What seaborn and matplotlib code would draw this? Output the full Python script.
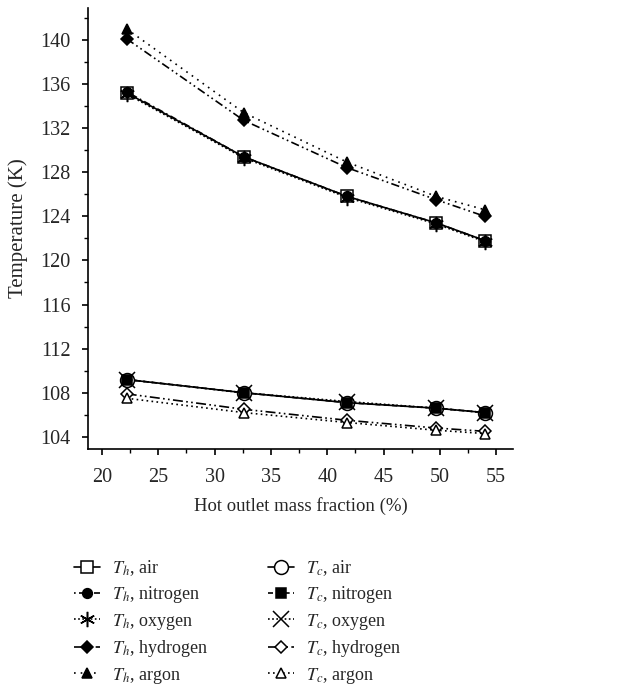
import numpy as np
import pandas as pd
import matplotlib
matplotlib.use("Agg")
import matplotlib.pyplot as plt
import seaborn as sns
from matplotlib.ticker import MultipleLocator

# Hot outlet mass fraction (%)
mass_fraction = [22.2, 32.6, 41.8, 49.7, 54.0]

# Hot outlet temperature T_h (K)
th_air = [135.2, 129.4, 125.8, 123.4, 121.8]
th_nitrogen = [135.3, 129.4, 125.8, 123.4, 121.8]
th_oxygen = [135.1, 129.3, 125.7, 123.3, 121.7]
th_hydrogen = [140.1, 132.7, 128.4, 125.5, 124.0]
th_argon = [141.0, 133.4, 128.9, 125.8, 124.6]

# Cold outlet temperature T_c (K)
tc_air = [109.2, 108.0, 107.1, 106.6, 106.2]
tc_nitrogen = [109.2, 108.0, 107.1, 106.6, 106.2]
tc_oxygen = [109.2, 108.0, 107.2, 106.6, 106.2]
tc_hydrogen = [107.9, 106.5, 105.5, 104.8, 104.5]
tc_argon = [107.5, 106.2, 105.3, 104.6, 104.3]

labels = [
    r"$T_h$, air", r"$T_h$, nitrogen", r"$T_h$, oxygen", r"$T_h$, hydrogen", r"$T_h$, argon",
    r"$T_c$, air", r"$T_c$, nitrogen", r"$T_c$, oxygen", r"$T_c$, hydrogen", r"$T_c$, argon",
]
series = [th_air, th_nitrogen, th_oxygen, th_hydrogen, th_argon,
          tc_air, tc_nitrogen, tc_oxygen, tc_hydrogen, tc_argon]

styles = [
    dict(marker="s", mfc="white", ms=8, ls="-"),
    dict(marker="o", mfc="black", ms=7, ls=(0, (1, 2, 4, 2))),
    dict(marker=(6, 2, 0), mfc="black", ms=11, ls=(0, (1, 1.5))),
    dict(marker="D", mfc="black", ms=6.5, ls=(0, (5, 2, 1, 2, 1, 2))),
    dict(marker="^", mfc="black", ms=7.5, ls=(0, (1, 3))),
    dict(marker="o", mfc="white", ms=10, ls="-"),
    dict(marker="s", mfc="black", ms=6.5, ls=(0, (3, 2))),
    dict(marker="x", mfc="black", ms=11, ls=(0, (1, 1.5))),
    dict(marker="D", mfc="white", ms=6.5, ls=(0, (6, 2, 1, 2, 1, 2))),
    dict(marker="^", mfc="white", ms=7.5, ls=(0, (1, 2))),
]

sns.set_theme(style="ticks")
plt.rcParams["font.family"] = ["Liberation Serif", "DejaVu Serif"]
plt.rcParams["mathtext.fontset"] = "stix"

fig = plt.figure(figsize=(6.28, 6.86), dpi=100)
ax = fig.add_axes([0.140, 0.3455, 0.677, 0.6429])

for y, lab, st in zip(series, labels, styles):
    df = pd.DataFrame({"x": mass_fraction, "y": y})
    sns.lineplot(data=df, x="x", y="y", ax=ax, color="black", lw=1.2,
                 marker=st["marker"], markersize=st["ms"],
                 markerfacecolor=st["mfc"], markeredgecolor="black",
                 markeredgewidth=1.1, linestyle=st["ls"], label=lab)

ax.set_xlim(18.76, 56.5)
ax.set_ylim(102.9, 142.9)
ax.xaxis.set_major_locator(MultipleLocator(5))
ax.xaxis.set_minor_locator(MultipleLocator(2.5))
ax.yaxis.set_major_locator(MultipleLocator(4))
ax.yaxis.set_minor_locator(MultipleLocator(2))
ax.tick_params(which="major", length=4.5, width=1.2, labelsize=14.5, direction="out", color="black")
ax.tick_params(axis="x", which="major", pad=9)
ax.tick_params(axis="y", which="major", pad=8)
ax.tick_params(which="minor", length=3, width=1.0, direction="out", color="black")
for s in ("top", "right"):
    ax.spines[s].set_visible(False)
for s in ("left", "bottom"):
    ax.spines[s].set_linewidth(1.2)
    ax.spines[s].set_color("black")

ax.set_xlabel("Hot outlet mass fraction (%)", fontsize=13.5)
ax.set_ylabel("Temperature (K)", fontsize=15)
ax.xaxis.set_label_coords(0.5, -0.108)
ax.yaxis.set_label_coords(-0.142, 0.5)

handles, labs = ax.get_legend_handles_labels()
ax.legend(handles, labs, ncol=2, loc="upper left", bbox_to_anchor=(0.118, 0.1866),
          bbox_transform=fig.transFigure, borderpad=0, borderaxespad=0,
          frameon=False, fontsize=13, handlelength=1.45, columnspacing=3.3,
          handletextpad=0.67, labelspacing=0.36)

fig.savefig("out.png", dpi=100)
